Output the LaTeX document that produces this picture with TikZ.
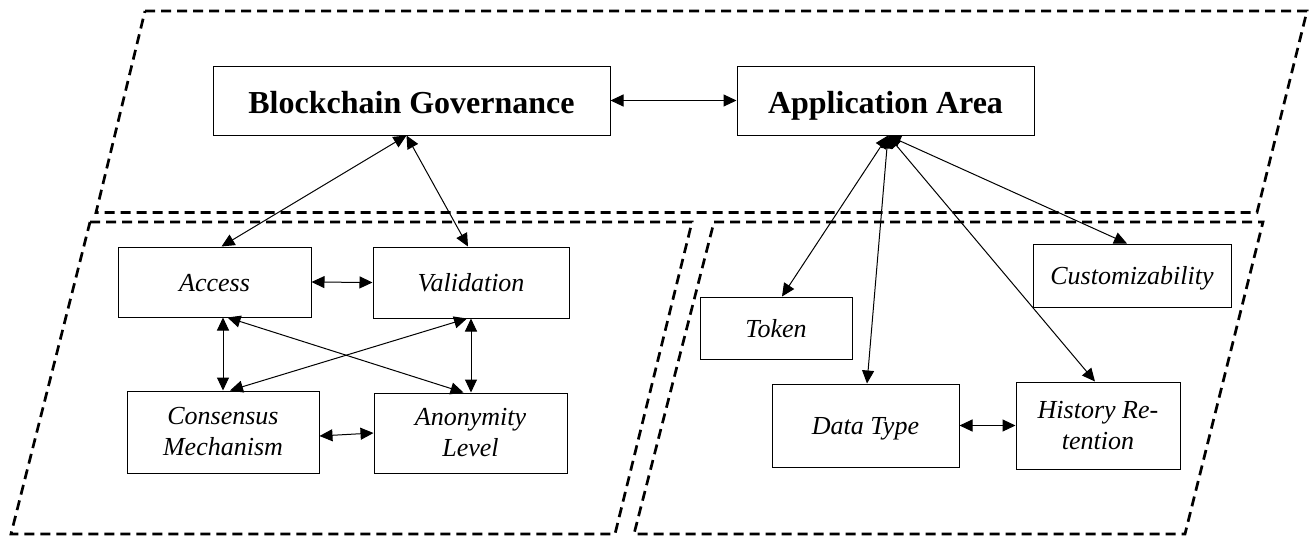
\documentclass[tikz,border=0pt]{standalone}
\usepackage{fontspec}
\setmainfont{Liberation Serif}
\usetikzlibrary{arrows.meta}
\begin{document}
\begin{tikzpicture}[x=1pt,y=-1pt,
  region/.style={line width=2.7pt, dash pattern=on 10pt off 6pt},
  bigbox/.style={draw, line width=1pt, inner sep=0pt, text height=25pt, text depth=0pt, font=\fontsize{32}{38}\selectfont\bfseries},
  twobox/.style={draw, line width=1pt, inner sep=0pt, align=center, font=\fontsize{26}{31}\selectfont\itshape},
  smallbox/.style={twobox, text height=18pt, text depth=0pt},
  link/.style={line width=1pt, {Triangle[length=13pt,width=12pt]}-{Triangle[length=13pt,width=12pt]}}
]
\useasboundingbox (0,0) rectangle (1312,536);

% regions
\draw[region] (145,11) -- (1307,11) -- (1257,212.5) -- (96,212.5) -- cycle;
\draw[region] (90,222) -- (692,222) -- (615,534) -- (11,534) -- cycle;
\draw[region] (714,222) -- (1263,222) -- (1185,534) -- (634,534) -- cycle;

% boxes
\node[bigbox, minimum width=397pt, minimum height=69pt] (bg) at (411.5,100.5) {Blockchain Governance};
\node[bigbox, minimum width=297pt, minimum height=69pt] (aa) at (885.5,100.5) {Application Area};

\node[smallbox, minimum width=193pt, minimum height=70pt] (acc) at (214.5,282) {Access};
\node[smallbox, minimum width=196pt, minimum height=71pt] (val) at (471,282.5) {Validation};
\node[twobox, minimum width=192pt, minimum height=82pt] (con) at (223,432) {Consensus\\Mechanism};
\node[twobox, minimum width=193pt, minimum height=80pt] (ano) at (470.5,433) {Anonymity\\Level};

\node[smallbox, minimum width=152pt, minimum height=62pt] (tok) at (776,328) {Token};
\node[smallbox, minimum width=187pt, minimum height=83pt] (dt) at (865.5,425.5) {Data Type};
\node[twobox, minimum width=164pt, minimum height=87pt] (hr) at (1098,425.5) {History Re-\\tention};
\node[smallbox, minimum width=198pt, minimum height=63pt] (cus) at (1132,275.5) {Customizability};

% connectors
\draw[link] (bg.east) -- (aa.west);
\draw[link] ([xshift=-5pt]bg.south) -- ([xshift=7pt]acc.north);
\draw[link] ([xshift=-5pt]bg.south) -- ([xshift=-3pt]val.north);
\draw[link] (acc.east) -- (val.west);
\draw[link] (con.north |- acc.south) -- (con.north);
\draw[link] (val.south) -- (val.south |- ano.north);
\draw[link] ([xshift=13pt]acc.south) -- ([xshift=-7pt]ano.north);
\draw[link] ([xshift=-4pt]val.south) -- ([xshift=7pt]con.north);
\draw[link] ([yshift=-4pt]con.east) -- (ano.west);

\draw[link] ([xshift=2.5pt]aa.south) -- ([xshift=6pt]tok.north);
\draw[link] ([xshift=2.5pt]aa.south) -- ([xshift=1.5pt]dt.north);
\draw[link] ([xshift=2.5pt]aa.south) -- ([xshift=-3pt]hr.north);
\draw[link] ([xshift=2.5pt]aa.south) -- ([xshift=-5pt]cus.north);
\draw[link] (dt.east) -- (hr.west);
\end{tikzpicture}
\end{document}
